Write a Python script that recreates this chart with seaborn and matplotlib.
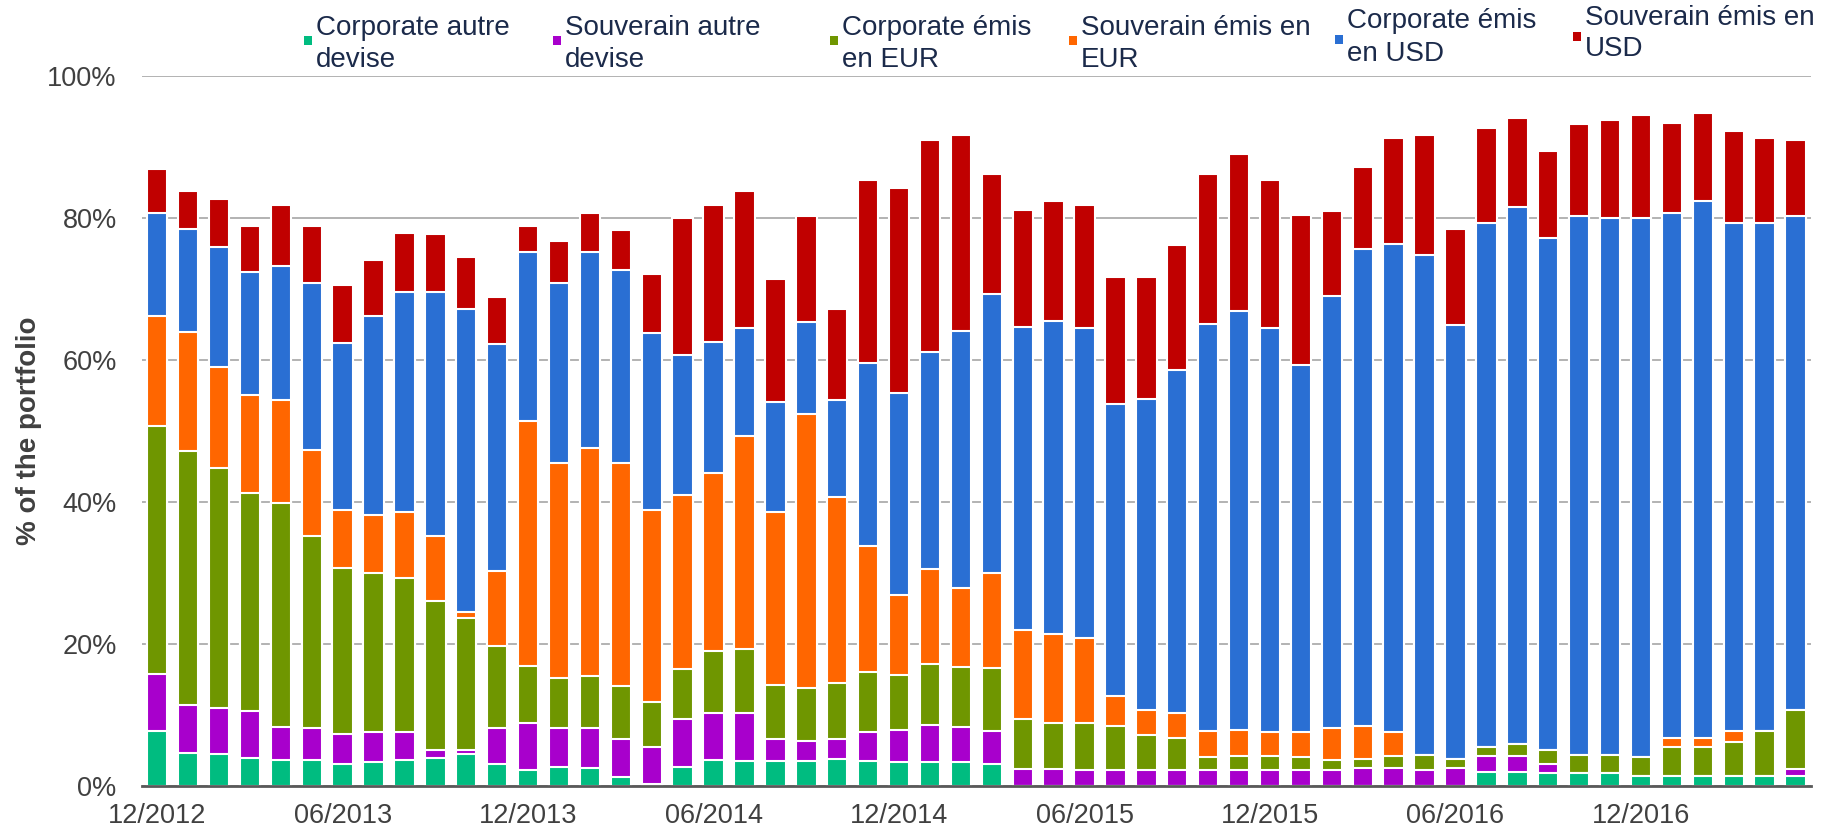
import numpy as np
import pandas as pd
import matplotlib
matplotlib.use('Agg')
import matplotlib.pyplot as plt
from matplotlib.patches import Rectangle
import seaborn as sns

# ─────────────────────────────────────────────
# DATA (% of the portfolio)
# ─────────────────────────────────────────────

months = list(pd.date_range('2012-12-01', periods=54, freq='MS').strftime('%m/%Y'))

corp_autre = [7.7, 4.6, 4.4, 3.9, 3.6, 3.6, 3.1, 3.4, 3.6, 3.9,
              4.4, 3.0, 2.2, 2.6, 2.5, 1.2, 0.3, 2.6, 3.6, 3.5,
              3.5, 3.5, 3.8, 3.5, 3.3, 3.3, 3.3, 3.1, 0, 0,
              0, 0, 0, 0, 0, 0, 0, 0, 0, 0,
              0, 0, 0, 2.0, 2.0, 1.8, 1.8, 1.8, 1.3, 1.3,
              1.3, 1.3, 1.3, 1.3]
souv_autre = [8.0, 6.7, 6.6, 6.6, 4.7, 4.5, 4.2, 4.2, 4.0, 1.1,
              0.6, 5.1, 6.6, 5.5, 5.6, 5.4, 5.1, 6.8, 6.7, 6.7,
              3.1, 2.8, 2.8, 4.1, 4.5, 5.3, 5.0, 4.6, 2.4, 2.4,
              2.2, 2.2, 2.2, 2.2, 2.2, 2.2, 2.2, 2.2, 2.2, 2.5,
              2.5, 2.2, 2.5, 2.2, 2.2, 1.2, 0, 0, 0, 0,
              0, 0, 0, 1.1]
corp_eur = [34.9, 35.9, 33.7, 30.7, 31.5, 27.0, 23.4, 22.4, 21.6, 21.0,
            18.6, 11.6, 8.1, 7.0, 7.3, 7.4, 6.4, 7.1, 8.7, 9.1,
            7.6, 7.4, 7.8, 8.4, 7.8, 8.6, 8.4, 8.9, 7.0, 6.5,
            6.7, 6.2, 5.0, 4.5, 1.8, 2.0, 2.0, 1.8, 1.4, 1.3,
            1.7, 2.1, 1.3, 1.2, 1.7, 2.0, 2.5, 2.5, 2.7, 4.1,
            4.1, 4.8, 6.4, 8.2]
souv_eur = [15.6, 16.7, 14.3, 13.8, 14.5, 12.2, 8.1, 8.1, 9.3, 9.2,
            0.9, 10.5, 34.5, 30.4, 32.1, 31.4, 27.1, 24.5, 25.0, 29.9,
            24.3, 38.6, 26.2, 17.8, 11.3, 13.3, 11.2, 13.3, 12.6, 12.4,
            11.9, 4.3, 3.5, 3.5, 3.7, 3.7, 3.3, 3.5, 4.5, 4.6,
            3.3, 0, 0, 0, 0, 0, 0, 0, 0, 1.3,
            1.3, 1.6, 0, 0]
corp_usd = [14.4, 14.5, 16.9, 17.4, 18.9, 23.5, 23.6, 28.0, 31.0, 34.3,
            42.6, 32.0, 23.7, 25.3, 27.6, 27.3, 24.8, 19.7, 18.5, 15.2,
            15.5, 13.0, 13.7, 25.8, 28.4, 30.6, 36.1, 39.3, 42.6, 44.2,
            43.7, 41.1, 43.8, 48.4, 57.3, 59.0, 57.0, 51.8, 60.9, 67.2,
            68.8, 70.5, 61.1, 73.8, 75.6, 72.2, 75.9, 75.6, 75.9, 74.0,
            75.7, 71.6, 71.6, 69.7]
souv_usd = [6.2, 5.4, 6.7, 6.5, 8.6, 8.1, 8.1, 7.9, 8.3, 8.2,
            7.4, 6.6, 3.8, 5.9, 5.5, 5.5, 8.3, 19.2, 19.3, 19.4,
            17.4, 14.9, 12.8, 25.7, 28.9, 29.9, 27.7, 16.9, 16.5, 16.9,
            17.3, 17.8, 17.1, 17.6, 21.1, 22.1, 20.8, 21.1, 11.9, 11.5,
            14.9, 16.9, 13.5, 13.4, 12.6, 12.2, 13.0, 13.8, 14.5, 12.7,
            12.3, 12.9, 11.9, 10.7]

series_labels = ['Corporate autre\ndevise', 'Souverain autre\ndevise',
                 'Corporate émis\nen EUR', 'Souverain émis en\nEUR',
                 'Corporate émis\nen USD', 'Souverain émis en\nUSD']
series_colors = ['#00BC80', '#A800CC', '#6F9600', '#FF6600', '#2A6FD3', '#C00000']

# ─────────────────────────────────────────────
# PLOT
# ─────────────────────────────────────────────

sns.set_style('white')
plt.rcParams['font.family'] = ['Liberation Sans', 'DejaVu Sans']

TEXT_GREY = '#404040'
AXIS_GREY = '#595959'

fig = plt.figure(figsize=(18.21, 8.30), dpi=100)
ax = fig.add_axes([141.7 / 1821, 44.3 / 830, 1669.3 / 1821, 710 / 830])

values = np.array([corp_autre, souv_autre, corp_eur, souv_eur, corp_usd, souv_usd])
cumulative = values.cumsum(axis=0)

# stacked look: draw running totals from the top series down
for i in range(len(values) - 1, -1, -1):
    sns.barplot(x=months, y=cumulative[i], order=months, color=series_colors[i],
                saturation=1, width=0.66, edgecolor='white', linewidth=1.5,
                errorbar=None, ax=ax)

ax.set_xlim(-0.5, len(months) - 0.5)
ax.set_ylim(0, 100)
ax.set_xlabel('')
ax.set_ylabel('% of the portfolio', fontsize=20, fontweight='bold', color=TEXT_GREY)
ax.yaxis.set_label_coords(-0.0597, 0.5)

ax.set_yticks(range(0, 101, 20))
ax.set_yticklabels([f'{v}%' for v in range(0, 101, 20)])
ax.yaxis.grid(True, color='#A6A6A6', linewidth=1.2)
ax.set_axisbelow(True)

ax.set_xticks(range(0, len(months), 6))
ax.set_xticklabels(months[::6])
ax.set_xticks(np.arange(-0.5, len(months), 6), minor=True)

ax.tick_params(axis='y', labelsize=19.5, labelcolor=TEXT_GREY, length=0, pad=18)
ax.tick_params(axis='x', which='major', labelsize=19.5, labelcolor=TEXT_GREY,
               length=0, pad=12.5)
ax.tick_params(axis='x', which='minor', length=5, width=2, color=AXIS_GREY)

for side in ['top', 'right', 'left']:
    ax.spines[side].set_visible(False)
ax.spines['bottom'].set_color(AXIS_GREY)
ax.spines['bottom'].set_linewidth(2)

# legend laid out like the original (one row, wrapped labels)
legend_x = [304, 553, 830, 1069, 1335, 1573]
legend_base = [(35, 67), (35, 67), (35, 67), (35, 67), (28, 61), (25, 56)]
marker_y = [36, 36, 36, 36, 35, 32]
for lab, col, lx, (b1, b2), my in zip(series_labels, series_colors, legend_x,
                                      legend_base, marker_y):
    fig.patches.append(Rectangle((lx / 1821, 1 - (my + 9) / 830), 8 / 1821, 9 / 830,
                                 transform=fig.transFigure, facecolor=col,
                                 edgecolor='none'))
    line1, line2 = lab.split('\n')
    fig.text((lx + 12) / 1821, 1 - b1 / 830, line1, fontsize=20,
             color='#1B2A4A', va='baseline', ha='left')
    fig.text((lx + 12) / 1821, 1 - b2 / 830, line2, fontsize=20,
             color='#1B2A4A', va='baseline', ha='left')

fig.savefig('out.png', dpi=100)
